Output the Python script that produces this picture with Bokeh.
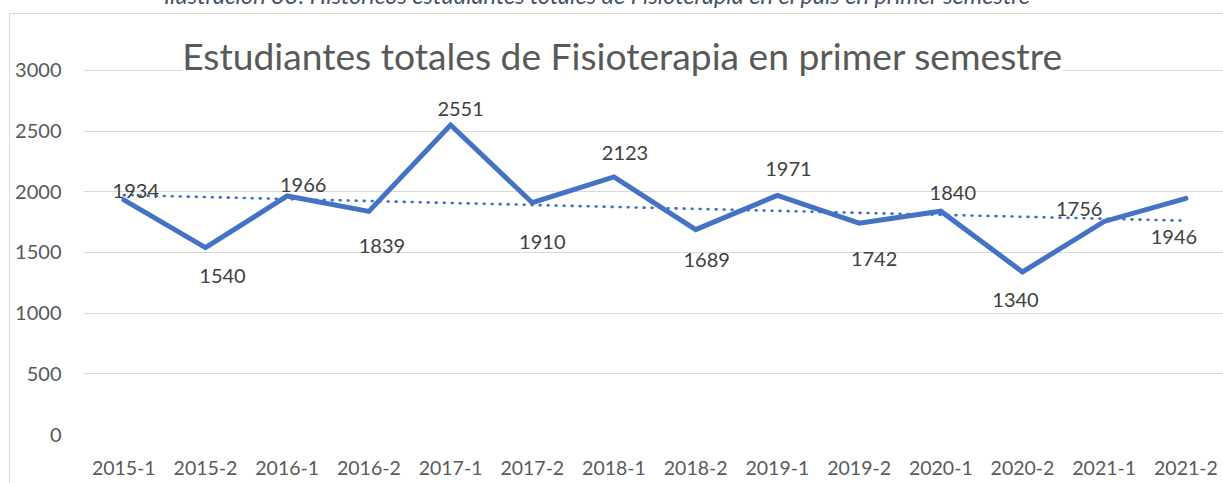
import numpy as np
from bokeh.plotting import figure
from bokeh.layouts import column
from bokeh.models import ColumnDataSource, FixedTicker, Label, Range1d, Div
from bokeh.core.properties import value
from bokeh.embed import file_html
from bokeh.resources import INLINE

# ---- data ----
periods = ["2015-1", "2015-2", "2016-1", "2016-2", "2017-1", "2017-2", "2018-1",
           "2018-2", "2019-1", "2019-2", "2020-1", "2020-2", "2021-1", "2021-2"]
students = [1934, 1540, 1966, 1839, 2551, 1910, 2123, 1689, 1971, 1742, 1840, 1340, 1756, 1946]
y_ticks = [0, 500, 1000, 1500, 2000, 2500, 3000]
title_text = "Estudiantes totales de Fisioterapia en primer semestre"
caption_text = ("Ilustración 33: Históricos estudiantes totales de Fisioterapia "
                "en el país en primer semestre")

# ---- style: per-label pixel offsets (placement of data labels) ----
label_dx = [12, 17, 16, 13, 10, 10, 11, 11, 11, 15, 12, -7, -25, -12]
label_dy = [-9, 28, -11, 35, -16, 39, -24, 30, -26, 36, -18, 28, -12, 39]

BLUE = "#4472C4"
GRID = "#d9d9d9"
TXT = "#595959"
FONT = "Lato"

idx = list(range(len(periods)))
src = ColumnDataSource(dict(x=idx, y=students, lab=[str(v) for v in students],
                            dx=label_dx, dy=label_dy))

# linear trendline (least squares, like Excel)
coef = np.polyfit(idx, students, 1)
trend_y = list(np.polyval(coef, idx))

# caption above the chart (its upper part lies outside the page)
cap = Div(text=caption_text, width=1194, height=23, margin=(-15, 0, 0, 0),
          styles={"font-family": "Lato", "font-style": "italic",
                  "font-size": "23.5px", "line-height": "20px",
                  "color": "#44546A", "text-align": "center",
                  "white-space": "nowrap", "padding": "0"})

W, H = 1223, 483
p = figure(width=W, height=H, output_backend="svg", toolbar_location=None,
           x_range=Range1d(-0.493, 13.46), y_range=Range1d(0, 3461.5),
           min_border_left=83, min_border_right=0, min_border_top=14,
           min_border_bottom=49, margin=(-8, 0, 0, 0))
# chart-area border (left and top edges) painted behind the transparent canvas
p.styles = {
    "background": ("linear-gradient(#d9d9d9,#d9d9d9) 9px 13px / 1px 100% no-repeat, "
                   "linear-gradient(#d9d9d9,#d9d9d9) 9px 13px / 100% 1px no-repeat"),
}
p.outline_line_color = None
p.background_fill_color = "white"
p.border_fill_color = None

# grid
p.xgrid.visible = False
p.ygrid.ticker = FixedTicker(ticks=y_ticks)
p.ygrid.grid_line_color = GRID
p.ygrid.grid_line_width = 1.2

# axes
p.yaxis.ticker = FixedTicker(ticks=y_ticks)
p.yaxis.axis_line_color = None
p.yaxis.major_tick_line_color = None
p.yaxis.minor_tick_line_color = None
p.yaxis.major_tick_out = 0
p.yaxis.major_tick_in = 0
p.yaxis.major_label_standoff = 22
p.yaxis.major_label_text_font = FONT
p.yaxis.major_label_text_font_size = "20px"
p.yaxis.major_label_text_color = TXT

p.xaxis.ticker = FixedTicker(ticks=idx)
p.xaxis.major_label_overrides = {i: periods[i] for i in idx}
p.xaxis.axis_line_color = None
p.xaxis.major_tick_line_color = None
p.xaxis.minor_tick_line_color = None
p.xaxis.major_tick_out = 0
p.xaxis.major_tick_in = 0
p.xaxis.major_label_standoff = 26
p.xaxis.major_label_text_font = FONT
p.xaxis.major_label_text_font_size = "19.5px"
p.xaxis.major_label_text_color = TXT

# series
p.line(x="x", y="y", source=src, line_color=BLUE, line_width=5,
       line_join="miter", line_cap="round")
p.line(x=idx, y=trend_y, line_color=BLUE, line_width=2.6,
       line_dash="1 7", line_cap="round")

# data labels
p.text(x="x", y="y", text="lab", source=src, x_offset="dx", y_offset="dy",
       text_align="center", text_baseline="middle",
       text_font=value(FONT), text_font_size="20px", text_color="#404040")

# chart title
p.add_layout(Label(x=622, y=55.2, x_units="canvas", y_units="canvas",
                   text=title_text, text_align="center",
                   text_baseline="alphabetic", text_font=FONT,
                   text_font_size="37.2px", text_color=TXT,
                   background_fill_color="white"))

layout = column(cap, p, spacing=0)
open("out.html", "w").write(file_html(layout, INLINE))
